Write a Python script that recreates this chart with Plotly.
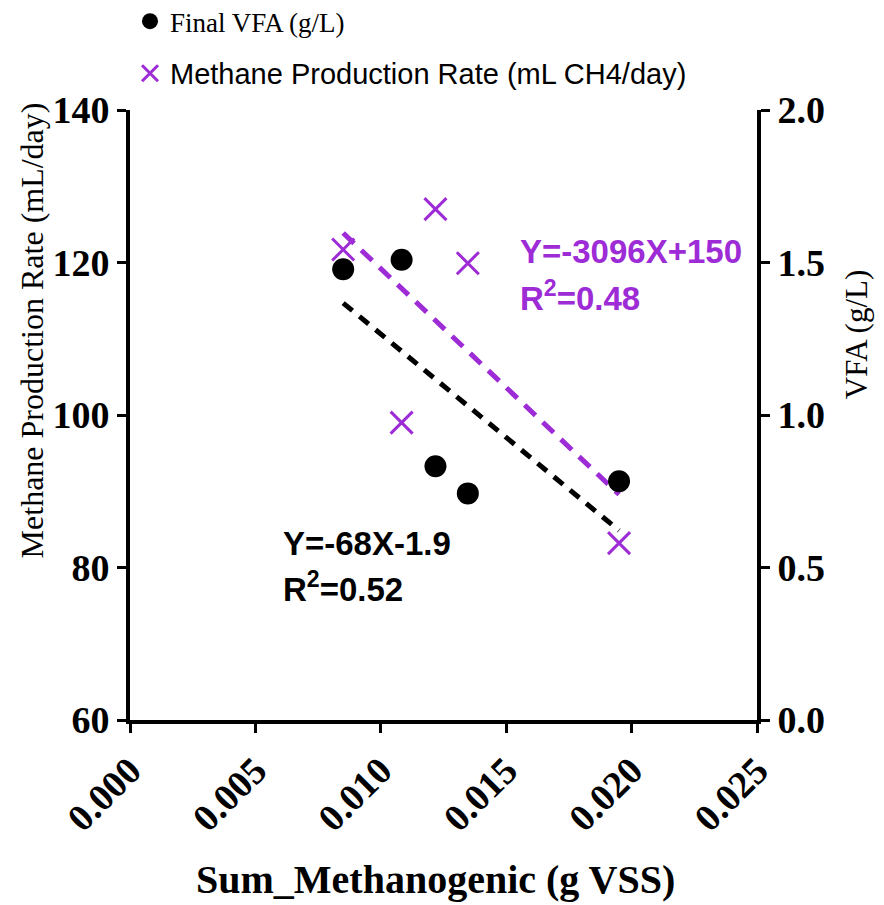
import numpy as np
import plotly.graph_objects as go

# ---- data ----
sum_methanogenic = [0.0085, 0.01083, 0.01218, 0.01347, 0.0195]   # g VSS
final_vfa = [1.478, 1.509, 0.832, 0.743, 0.783]                   # g/L
methane_x = [0.0085, 0.01083, 0.01218, 0.01347, 0.0195]
methane_rate = [121.7, 99.0, 127.0, 119.9, 83.2]                  # mL CH4/day

x_ticks = [0.000, 0.005, 0.010, 0.015, 0.020, 0.025]
y_ticks = [60, 80, 100, 120, 140]
y2_ticks = [0.0, 0.5, 1.0, 1.5, 2.0]

PURPLE = "#9D2BD6"
SERIF = "Liberation Serif, Times New Roman, serif"
SANS = "Liberation Sans, Arial, sans-serif"

# linear fits computed from the data
m_slope, m_int = np.polyfit(methane_x, methane_rate, 1)
v_slope, v_int = np.polyfit(sum_methanogenic, final_vfa, 1)
mx = np.array([min(methane_x), max(methane_x)])
vx = np.array([min(sum_methanogenic), max(sum_methanogenic)])

fig = go.Figure()

fig.add_trace(go.Scatter(
    x=sum_methanogenic, y=final_vfa, yaxis="y2", mode="markers",
    name="Final VFA (g/L)", legendgroup="a",
    marker=dict(symbol="circle", size=22, color="black"),
))
fig.add_trace(go.Scatter(
    x=methane_x, y=methane_rate, mode="markers",
    name='<span style="font-family:Liberation Sans, Arial, sans-serif;font-size:29px">Methane Production Rate (mL CH4/day)</span>',
    legendgroup="b",
    marker=dict(symbol="x-thin-open", size=22, color=PURPLE, line=dict(color=PURPLE, width=3)),
))
fig.add_trace(go.Scatter(
    x=vx, y=v_slope * vx + v_int, yaxis="y2", mode="lines", showlegend=False,
    line=dict(color="black", width=5, dash="12px,9px"),
))
fig.add_trace(go.Scatter(
    x=mx, y=m_slope * mx + m_int, mode="lines", showlegend=False,
    line=dict(color=PURPLE, width=5, dash="15px,10px"),
))

tickfont = dict(family=SERIF, size=38, color="black", weight="bold")
axis_common = dict(showline=True, linecolor="black", linewidth=4, ticks="outside",
                   ticklen=9, tickwidth=3, tickcolor="black", showgrid=False,
                   zeroline=False, tickfont=tickfont)

fig.update_layout(
    width=884, height=905,
    margin=dict(l=130, r=127, t=110, b=185, autoexpand=False),
    paper_bgcolor="white", plot_bgcolor="white",
    xaxis=dict(range=[0, 0.025], tickvals=x_ticks, tickformat=".3f", tickangle=-45,
               **axis_common),
    yaxis=dict(range=[60, 140], tickvals=y_ticks, **axis_common),
    yaxis2=dict(range=[0, 2], tickvals=y2_ticks, tickformat=".1f", overlaying="y",
                side="right", **axis_common),
    legend=dict(x=0.0, y=1.185, xanchor="left", yanchor="top",
                font=dict(family=SERIF, size=27, color="black"),
                tracegroupgap=14, bgcolor="rgba(0,0,0,0)"),
    showlegend=True,
)

annos = [
    dict(text="<b>Sum_Methanogenic (g VSS)</b>", x=0.487, y=-0.262, textangle=0,
         font=dict(family=SERIF, size=40, color="black")),
    dict(text="Methane Production Rate (mL/day)", x=-0.156, y=0.639, textangle=-90,
         font=dict(family=SERIF, size=32, color="black")),
    dict(text="VFA (g/L)", x=1.158, y=0.631, textangle=-90,
         font=dict(family=SERIF, size=31, color="black")),
]
for a in annos:
    fig.add_annotation(xref="paper", yref="paper", showarrow=False,
                       xanchor="center", yanchor="middle", **a)

eq = [
    ("<b>Y=-3096X+150</b>", 0.619, 0.768, PURPLE),
    ("<b>R<sup>2</sup>=0.48</b>", 0.619, 0.695, PURPLE),
    ("<b>Y=-68X-1.9</b>", 0.241, 0.290, "black"),
    ("<b>R<sup>2</sup>=0.52</b>", 0.241, 0.218, "black"),
]
for t, x, y, c in eq:
    fig.add_annotation(text=t, x=x, y=y, xref="paper", yref="paper", showarrow=False,
                       xanchor="left", yanchor="middle",
                       font=dict(family=SANS, size=33, color=c))

fig.write_html("out.html")
